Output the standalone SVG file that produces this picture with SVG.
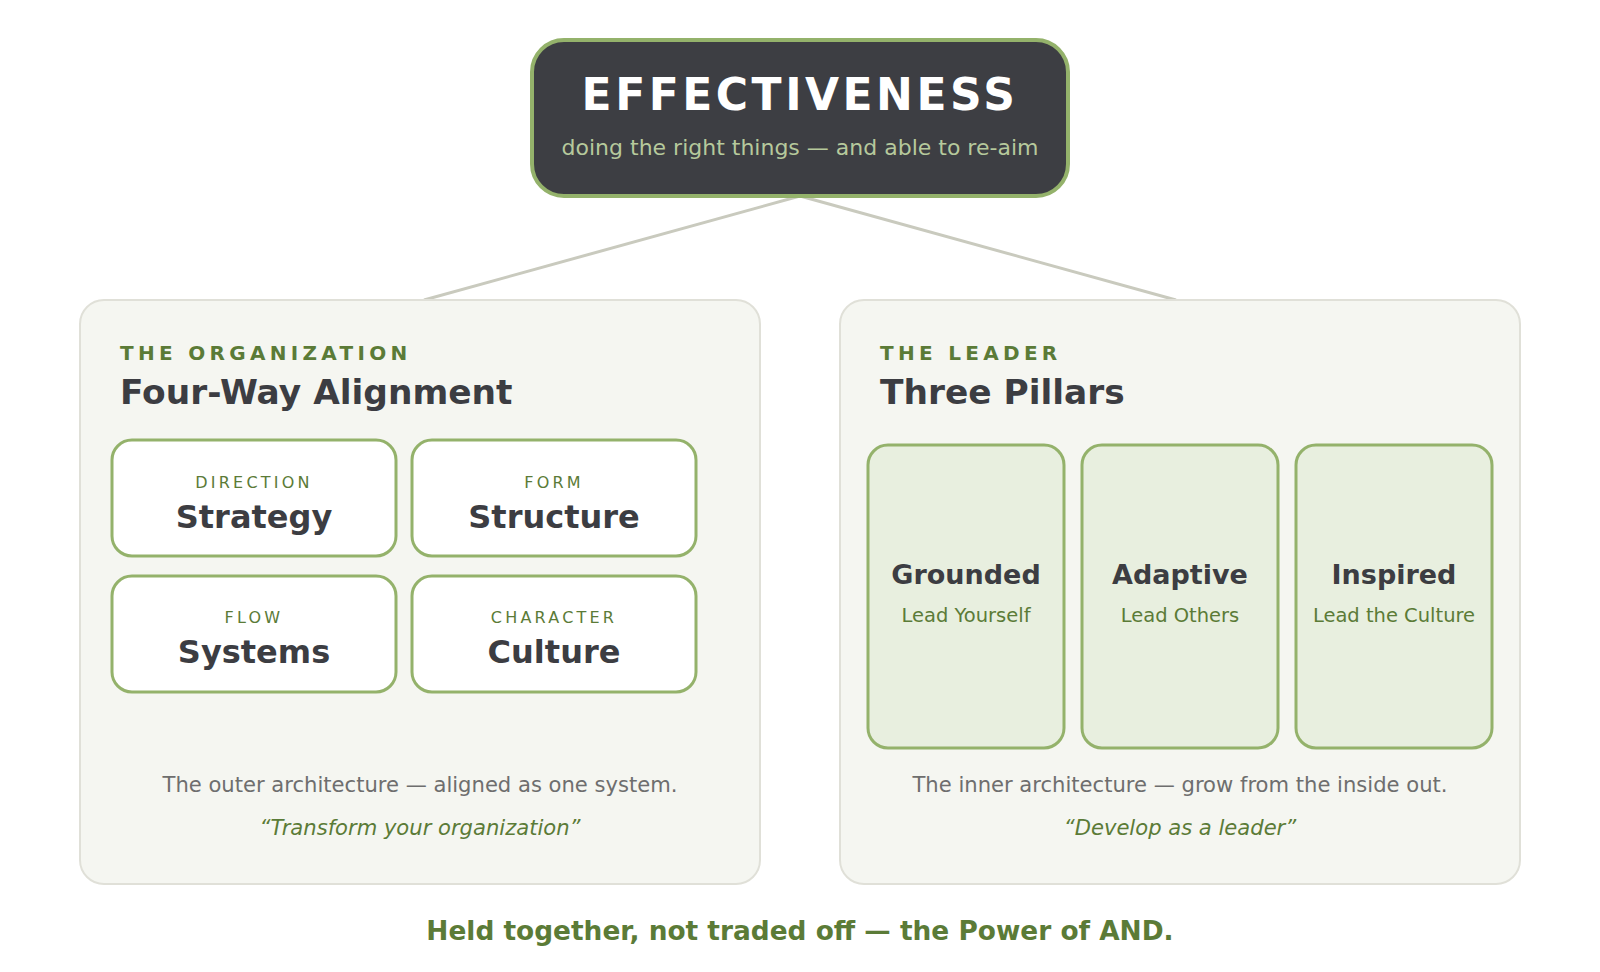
<svg xmlns="http://www.w3.org/2000/svg" width="1600" height="972" viewBox="0 0 1600 972">
<style>
  text { font-family: "DejaVu Sans", Verdana, sans-serif; }
  .panel { fill: #f5f6f1; stroke: #e0e0d8; stroke-width: 2; }
  .card { fill: #ffffff; stroke: #94b26b; stroke-width: 3; }
  .pillar { fill: #e8efdf; stroke: #94b26b; stroke-width: 3; }
  .conn { stroke: #c9cabe; stroke-width: 3; fill: none; }
  .eyebrow { font-size: 20px; font-weight: bold; fill: #5b7b37; letter-spacing: 4.3px; }
  .ptitle { font-size: 34.4px; font-weight: bold; fill: #3c3d42; }
  .clabel { font-size: 16px; fill: #5b7b37; letter-spacing: 3.2px; text-anchor: middle; }
  .cname { font-size: 32px; font-weight: bold; fill: #3c3d42; text-anchor: middle; }
  .pname { font-size: 27px; font-weight: bold; fill: #3c3d42; text-anchor: middle; }
  .psub { font-size: 19.5px; fill: #5b7b37; text-anchor: middle; }
  .desc { font-size: 21.1px; fill: #6e6e6e; text-anchor: middle; }
  .quote { font-size: 21.1px; font-style: italic; fill: #5b7b37; text-anchor: middle; }
</style>
<rect width="1600" height="972" fill="#ffffff"/>
<g id="connectors">
  <line class="conn" x1="800" y1="196" x2="424" y2="300"/>
  <line class="conn" x1="800" y1="196" x2="1176" y2="300"/>
</g>
<g id="effectiveness">
  <rect x="532" y="40" width="536" height="156" rx="32" fill="#3d3e43" stroke="#94b26b" stroke-width="4"/>
  <text x="800" y="110" text-anchor="middle" font-size="44" font-weight="bold" fill="#ffffff" letter-spacing="3.5">EFFECTIVENESS</text>
  <text x="800" y="155" text-anchor="middle" font-size="22" fill="#b6c99c">doing the right things — and able to re-aim</text>
</g>
<g id="organization">
  <rect class="panel" x="80" y="300" width="680" height="584" rx="24"/>
  <text class="eyebrow" x="120" y="360">THE ORGANIZATION</text>
  <text class="ptitle" x="120" y="404">Four-Way Alignment</text>
  <text class="desc" x="420" y="792">The outer architecture — aligned as one system.</text>
  <text class="quote" x="420" y="835">“Transform your organization”</text>
</g>
<g id="strategy">
  <rect class="card" x="112" y="440" width="284" height="116" rx="20"/>
  <text class="clabel" x="254" y="488">DIRECTION</text>
  <text class="cname" x="254" y="528">Strategy</text>
</g>
<g id="structure">
  <rect class="card" x="412" y="440" width="284" height="116" rx="20"/>
  <text class="clabel" x="554" y="488">FORM</text>
  <text class="cname" x="554" y="528">Structure</text>
</g>
<g id="systems">
  <rect class="card" x="112" y="576" width="284" height="116" rx="20"/>
  <text class="clabel" x="254" y="623">FLOW</text>
  <text class="cname" x="254" y="663">Systems</text>
</g>
<g id="culture">
  <rect class="card" x="412" y="576" width="284" height="116" rx="20"/>
  <text class="clabel" x="554" y="623">CHARACTER</text>
  <text class="cname" x="554" y="663">Culture</text>
</g>
<g id="leader">
  <rect class="panel" x="840" y="300" width="680" height="584" rx="24"/>
  <text class="eyebrow" x="880" y="360">THE LEADER</text>
  <text class="ptitle" x="880" y="404">Three Pillars</text>
  <text class="desc" x="1180" y="792">The inner architecture — grow from the inside out.</text>
  <text class="quote" x="1180" y="835">“Develop as a leader”</text>
</g>
<g id="grounded">
  <rect class="pillar" x="868" y="445" width="196" height="303" rx="20"/>
  <text class="pname" x="966" y="584">Grounded</text>
  <text class="psub" x="966" y="622">Lead Yourself</text>
</g>
<g id="adaptive">
  <rect class="pillar" x="1082" y="445" width="196" height="303" rx="20"/>
  <text class="pname" x="1180" y="584">Adaptive</text>
  <text class="psub" x="1180" y="622">Lead Others</text>
</g>
<g id="inspired">
  <rect class="pillar" x="1296" y="445" width="196" height="303" rx="20"/>
  <text class="pname" x="1394" y="584">Inspired</text>
  <text class="psub" x="1394" y="622">Lead the Culture</text>
</g>
<g id="footer">
  <text x="800" y="940" text-anchor="middle" font-size="26.4" font-weight="bold" fill="#5b7b37">Held together, not traded off — the Power of AND.</text>
</g>
</svg>
